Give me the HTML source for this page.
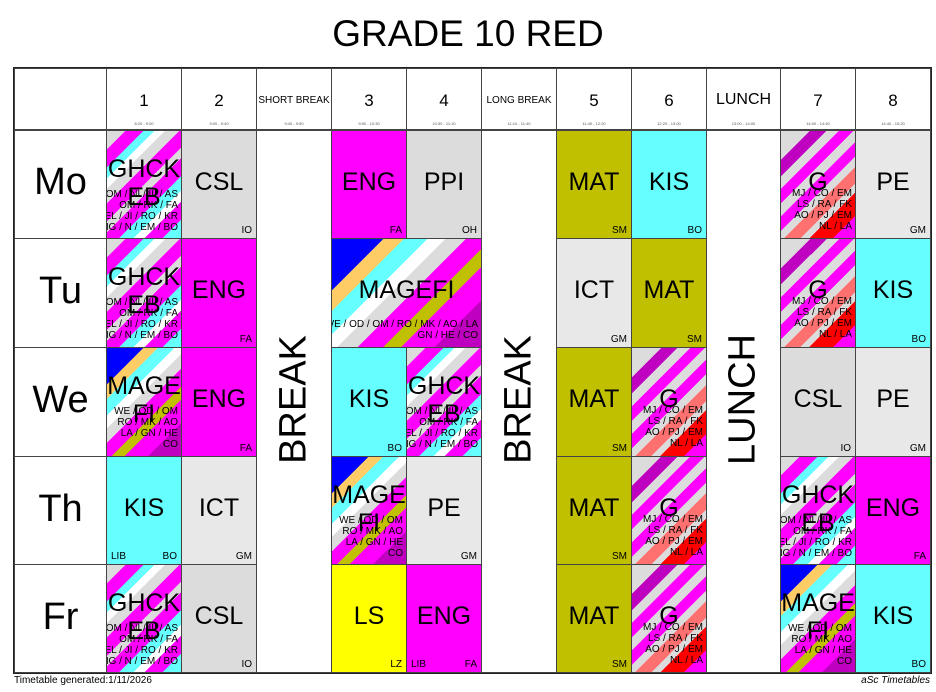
<!DOCTYPE html>
<html><head><meta charset="utf-8"><style>
body{margin:0;width:936px;height:692px;background:#fff;position:relative;overflow:hidden;font-family:"Liberation Sans",Arial,sans-serif;}
.a{position:absolute;box-sizing:border-box;}
.c{position:absolute;box-sizing:border-box;border:1px solid #444;overflow:hidden;}
.s{position:absolute;left:0;right:0;top:37px;text-align:center;font-size:25px;white-space:nowrap;}
.t{position:absolute;right:4px;bottom:2px;font-size:10px;}
.l{position:absolute;left:4px;bottom:2px;font-size:10px;}
.m{position:absolute;right:3px;left:-10px;text-align:right;font-size:10px;line-height:11px;white-space:nowrap;top:58px;}
.day{position:absolute;left:14px;width:93px;text-align:center;font-size:38px;}
.h{position:absolute;top:68px;height:62px;text-align:center;font-size:17px;padding-top:22px;box-sizing:border-box;border:1px solid #444;}
.h small{position:absolute;left:0;right:0;top:52px;font-size:4px;color:#555;}
.v{position:absolute;font-size:38px;transform:rotate(-90deg);transform-origin:center;white-space:nowrap;text-align:center;width:200px;}
.gh{background:linear-gradient(135deg,#dcdcdc 0 10%,#ff00ff 10% 20%,#66ffff 20% 26%,#fff 26% 32%,#dcdcdc 32% 40%,#ff00ff 40% 50%,#dcdcdc 50% 56%,#ff00ff 56% 66%,#66ffff 66% 74%,#fff 74% 80%,#ff00ff 80% 90%,#66ffff 90%);}
.g2{background:linear-gradient(135deg,#dcdcdc 0 16%,#c000c0 16% 25%,#dcdcdc 25% 32%,#ff00ff 32% 40%,#dcdcdc 40% 47%,#ff00ff 47% 55%,#dcdcdc 55% 61%,#ff7070 61% 70%,#dcdcdc 70% 75%,#ff0000 75% 88%,#ff00ff 88%);}
.mg{background:linear-gradient(135deg,#0000ff 0 20%,#ffcc66 20% 28%,#66ffff 28% 37%,#fff 37% 44%,#dcdcdc 44% 52%,#ff00ff 52% 62%,#c0c000 62% 69%,#ff00ff 69% 82%,#c000c0 82%);}
</style></head><body>
<div class="a" style="left:0;top:13px;width:936px;text-align:center;font-size:37px;">GRADE 10 RED</div>
<div class="a" style="left:13px;top:67px;width:919px;height:607px;border:2px solid #222;"></div>

<div class="h" style="left:14px;width:93px;"></div>
<div class="h" style="left:106px;width:76px;">1<small>8:20 - 9:00</small></div>
<div class="h" style="left:181px;width:76px;">2<small>9:00 - 9:40</small></div>
<div class="h" style="left:256px;width:76px;font-size:10px;padding-top:26px;">SHORT BREAK<small>9:40 - 9:50</small></div>
<div class="h" style="left:331px;width:76px;">3<small>9:50 - 10:30</small></div>
<div class="h" style="left:406px;width:76px;">4<small>10:30 - 11:10</small></div>
<div class="h" style="left:481px;width:76px;font-size:10px;padding-top:26px;">LONG BREAK<small>11:10 - 11:40</small></div>
<div class="h" style="left:556px;width:76px;">5<small>11:40 - 12:20</small></div>
<div class="h" style="left:631px;width:76px;">6<small>12:20 - 13:00</small></div>
<div class="h" style="left:706px;width:75px;font-size:16px;">LUNCH<small>13:00 - 14:00</small></div>
<div class="h" style="left:780px;width:76px;">7<small>14:00 - 14:40</small></div>
<div class="h" style="left:855px;width:76px;">8<small>14:40 - 15:20</small></div>

<div class="c" style="left:14px;top:130px;width:93px;height:109px;"></div>
<div class="c" style="left:14px;top:238px;width:93px;height:110px;"></div>
<div class="c" style="left:14px;top:347px;width:93px;height:110px;"></div>
<div class="c" style="left:14px;top:456px;width:93px;height:109px;"></div>
<div class="c" style="left:14px;top:564px;width:93px;height:109px;"></div>
<div class="day" style="top:161px;">Mo</div>
<div class="day" style="top:270px;">Tu</div>
<div class="day" style="top:379px;">We</div>
<div class="day" style="top:488px;">Th</div>
<div class="day" style="top:596px;">Fr</div>

<div class="c" style="left:256px;top:130px;width:76px;height:543px;"></div>
<div class="c" style="left:481px;top:130px;width:76px;height:543px;"></div>
<div class="c" style="left:706px;top:130px;width:75px;height:543px;"></div>
<div class="v" style="left:194px;top:378px;">BREAK</div>
<div class="v" style="left:419px;top:378px;">BREAK</div>
<div class="v" style="left:643px;top:378px;">LUNCH</div>

<!-- Mo -->
<div class="c gh" style="left:106px;top:130px;width:76px;height:109px;"><div class="s" style="top:24px;line-height:28px;">GHCK<br>EB</div><div class="m">OM / NI / III / AS<br>OM / RK / FA<br>EL / JI / RO / KR<br>NG / N / EM / BO</div></div>
<div class="c" style="left:181px;top:130px;width:76px;height:109px;background:#dcdcdc;"><div class="s">CSL</div><div class="t">IO</div></div>
<div class="c" style="left:331px;top:130px;width:76px;height:109px;background:#ff00ff;"><div class="s">ENG</div><div class="t">FA</div></div>
<div class="c" style="left:406px;top:130px;width:76px;height:109px;background:#dcdcdc;"><div class="s">PPI</div><div class="t">OH</div></div>
<div class="c" style="left:556px;top:130px;width:76px;height:109px;background:#c0c000;"><div class="s">MAT</div><div class="t">SM</div></div>
<div class="c" style="left:631px;top:130px;width:76px;height:109px;background:#66ffff;"><div class="s">KIS</div><div class="t">BO</div></div>
<div class="c g2" style="left:780px;top:130px;width:76px;height:109px;"><div class="s">G</div><div class="m" style="top:57px;">MJ / CO / EM<br>LS / RA / FK<br>AO / PJ / EM<br>NL / LA</div></div>
<div class="c" style="left:855px;top:130px;width:76px;height:109px;background:#e8e8e8;"><div class="s">PE</div><div class="t">GM</div></div>

<!-- Tu -->
<div class="c gh" style="left:106px;top:238px;width:76px;height:110px;"><div class="s" style="top:24px;line-height:28px;">GHCK<br>EB</div><div class="m">OM / NI / III / AS<br>OM / RK / FA<br>EL / JI / RO / KR<br>NG / N / EM / BO</div></div>
<div class="c" style="left:181px;top:238px;width:76px;height:110px;background:#ff00ff;"><div class="s">ENG</div><div class="t">FA</div></div>
<div class="c mg" style="left:331px;top:238px;width:151px;height:110px;"><div class="s">MAGEFI</div><div class="m" style="top:80px;">WE / OD / OM / RO / MK / AO / LA<br>GN / HE / CO</div></div>
<div class="c" style="left:556px;top:238px;width:76px;height:110px;background:#e8e8e8;"><div class="s">ICT</div><div class="t">GM</div></div>
<div class="c" style="left:631px;top:238px;width:76px;height:110px;background:#c0c000;"><div class="s">MAT</div><div class="t">SM</div></div>
<div class="c g2" style="left:780px;top:238px;width:76px;height:110px;"><div class="s">G</div><div class="m" style="top:57px;">MJ / CO / EM<br>LS / RA / FK<br>AO / PJ / EM<br>NL / LA</div></div>
<div class="c" style="left:855px;top:238px;width:76px;height:110px;background:#66ffff;"><div class="s">KIS</div><div class="t">BO</div></div>

<!-- We -->
<div class="c mg" style="left:106px;top:347px;width:76px;height:110px;"><div class="s" style="top:24px;line-height:28px;">MAGE<br>FI</div><div class="m">WE / OD / OM<br>RO / MK / AO<br>LA / GN / HE<br>CO</div></div>
<div class="c" style="left:181px;top:347px;width:76px;height:110px;background:#ff00ff;"><div class="s">ENG</div><div class="t">FA</div></div>
<div class="c" style="left:331px;top:347px;width:76px;height:110px;background:#66ffff;"><div class="s">KIS</div><div class="t">BO</div></div>
<div class="c gh" style="left:406px;top:347px;width:76px;height:110px;"><div class="s" style="top:24px;line-height:28px;">GHCK<br>EB</div><div class="m">OM / NI / III / AS<br>OM / RK / FA<br>EL / JI / RO / KR<br>NG / N / EM / BO</div></div>
<div class="c" style="left:556px;top:347px;width:76px;height:110px;background:#c0c000;"><div class="s">MAT</div><div class="t">SM</div></div>
<div class="c g2" style="left:631px;top:347px;width:76px;height:110px;"><div class="s">G</div><div class="m" style="top:57px;">MJ / CO / EM<br>LS / RA / FK<br>AO / PJ / EM<br>NL / LA</div></div>
<div class="c" style="left:780px;top:347px;width:76px;height:110px;background:#dcdcdc;"><div class="s">CSL</div><div class="t">IO</div></div>
<div class="c" style="left:855px;top:347px;width:76px;height:110px;background:#e8e8e8;"><div class="s">PE</div><div class="t">GM</div></div>

<!-- Th -->
<div class="c" style="left:106px;top:456px;width:76px;height:109px;background:#66ffff;"><div class="s">KIS</div><div class="l">LIB</div><div class="t">BO</div></div>
<div class="c" style="left:181px;top:456px;width:76px;height:109px;background:#e8e8e8;"><div class="s">ICT</div><div class="t">GM</div></div>
<div class="c mg" style="left:331px;top:456px;width:76px;height:109px;"><div class="s" style="top:24px;line-height:28px;">MAGE<br>FI</div><div class="m">WE / OD / OM<br>RO / MK / AO<br>LA / GN / HE<br>CO</div></div>
<div class="c" style="left:406px;top:456px;width:76px;height:109px;background:#e8e8e8;"><div class="s">PE</div><div class="t">GM</div></div>
<div class="c" style="left:556px;top:456px;width:76px;height:109px;background:#c0c000;"><div class="s">MAT</div><div class="t">SM</div></div>
<div class="c g2" style="left:631px;top:456px;width:76px;height:109px;"><div class="s">G</div><div class="m" style="top:57px;">MJ / CO / EM<br>LS / RA / FK<br>AO / PJ / EM<br>NL / LA</div></div>
<div class="c gh" style="left:780px;top:456px;width:76px;height:109px;"><div class="s" style="top:24px;line-height:28px;">GHCK<br>EB</div><div class="m">OM / NI / III / AS<br>OM / RK / FA<br>EL / JI / RO / KR<br>NG / N / EM / BO</div></div>
<div class="c" style="left:855px;top:456px;width:76px;height:109px;background:#ff00ff;"><div class="s">ENG</div><div class="t">FA</div></div>

<!-- Fr -->
<div class="c gh" style="left:106px;top:564px;width:76px;height:109px;"><div class="s" style="top:24px;line-height:28px;">GHCK<br>EB</div><div class="m">OM / NI / III / AS<br>OM / RK / FA<br>EL / JI / RO / KR<br>NG / N / EM / BO</div></div>
<div class="c" style="left:181px;top:564px;width:76px;height:109px;background:#dcdcdc;"><div class="s">CSL</div><div class="t">IO</div></div>
<div class="c" style="left:331px;top:564px;width:76px;height:109px;background:#ffff00;"><div class="s">LS</div><div class="t">LZ</div></div>
<div class="c" style="left:406px;top:564px;width:76px;height:109px;background:#ff00ff;"><div class="s">ENG</div><div class="l">LIB</div><div class="t">FA</div></div>
<div class="c" style="left:556px;top:564px;width:76px;height:109px;background:#c0c000;"><div class="s">MAT</div><div class="t">SM</div></div>
<div class="c g2" style="left:631px;top:564px;width:76px;height:109px;"><div class="s">G</div><div class="m" style="top:57px;">MJ / CO / EM<br>LS / RA / FK<br>AO / PJ / EM<br>NL / LA</div></div>
<div class="c mg" style="left:780px;top:564px;width:76px;height:109px;"><div class="s" style="top:24px;line-height:28px;">MAGE<br>FI</div><div class="m">WE / OD / OM<br>RO / MK / AO<br>LA / GN / HE<br>CO</div></div>
<div class="c" style="left:855px;top:564px;width:76px;height:109px;background:#66ffff;"><div class="s">KIS</div><div class="t">BO</div></div>

<div class="a" style="left:14px;top:675px;font-size:10px;">Timetable generated:1/11/2026</div>
<div class="a" style="right:6px;top:675px;font-size:10px;font-style:italic;">aSc Timetables</div>
</body></html>
